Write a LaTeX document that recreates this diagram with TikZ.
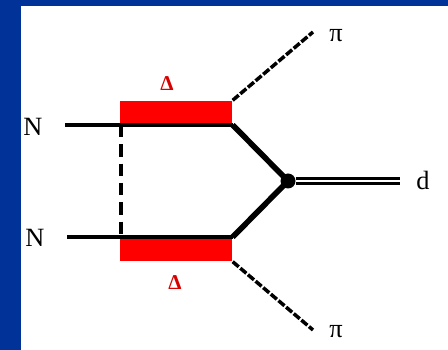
\documentclass[tikz,border=0pt]{standalone}
\usepackage{fontspec}
\setmainfont{Liberation Serif}
\usepackage{xcolor}
\usetikzlibrary{positioning}
\definecolor{slideblue}{RGB}{0,50,152}
\definecolor{deltared}{RGB}{255,0,0}

\begin{document}
\begin{tikzpicture}[
    x=0.02cm, y=-0.02cm,
    lbl/.style={font=\fontsize{15}{16}\selectfont, inner sep=0pt},
    dlbl/.style={font=\bfseries\fontsize{12}{13}\selectfont, text=red!85!black, inner sep=0pt},
    deltabox/.style={fill=deltared, draw=none, minimum width=2.24cm, minimum height=0.48cm, inner sep=0pt},
    vertex/.style={circle, fill=black, minimum size=0.3cm, inner sep=0pt},
    nucleon/.style={line width=2pt},
    fused/.style={line width=3.2pt},
    pion/.style={line width=2pt, dash pattern=on 4.5pt off 1.2pt},
    exchange/.style={line width=1.8pt, dash pattern=on 7pt off 4pt},
    deuteron/.style={double, double distance=1.3pt, line width=1.9pt}
]
% slide background
\fill[slideblue] (0,0) rectangle (448,350);
\fill[white] (21,6) rectangle (448,350);
\useasboundingbox (0,0) rectangle (448,350);

% nucleons in
\node[lbl] (n1) at (33,127) {N};
\node[lbl] (n2) at (35,238) {N};
\coordinate (in1) at (65,125);
\coordinate (in2) at (67,237);

% Delta boxes
\node[deltabox, anchor=south west] (box1) at (120,125) {};
\node[deltabox, anchor=north west] (box2) at (120,237) {};
\node[dlbl] (d1) at (167,84) {Δ};
\node[dlbl] (d2) at (175,283) {Δ};

% fusion vertex and deuteron
\node[vertex] (vtx) at (288,181) {};
\node[lbl] (deut) at (423,180) {d};
\coordinate (dend) at (400,181);

% pions out
\node[lbl] (pi1) at (336,36) {π};
\node[lbl] (pi2) at (336,332) {π};
\coordinate (p1) at (313,32);
\coordinate (p2) at (313,330);

\draw[nucleon] (in1) -- (box1.south east);
\draw[nucleon] (in2) -- (box2.north east);
\draw[exchange] (box1.south west) ++(1,0) -- (box2.north west -| 121,0);
\draw[fused] (box1.south east) -- (vtx.center);
\draw[fused] (box2.north east) -- (vtx.center);
\draw[deuteron] (vtx.east) -- (dend);
\draw[pion] (box1.north east) -- (p1);
\draw[pion] (box2.south east) -- (p2);
\end{tikzpicture}
\end{document}
